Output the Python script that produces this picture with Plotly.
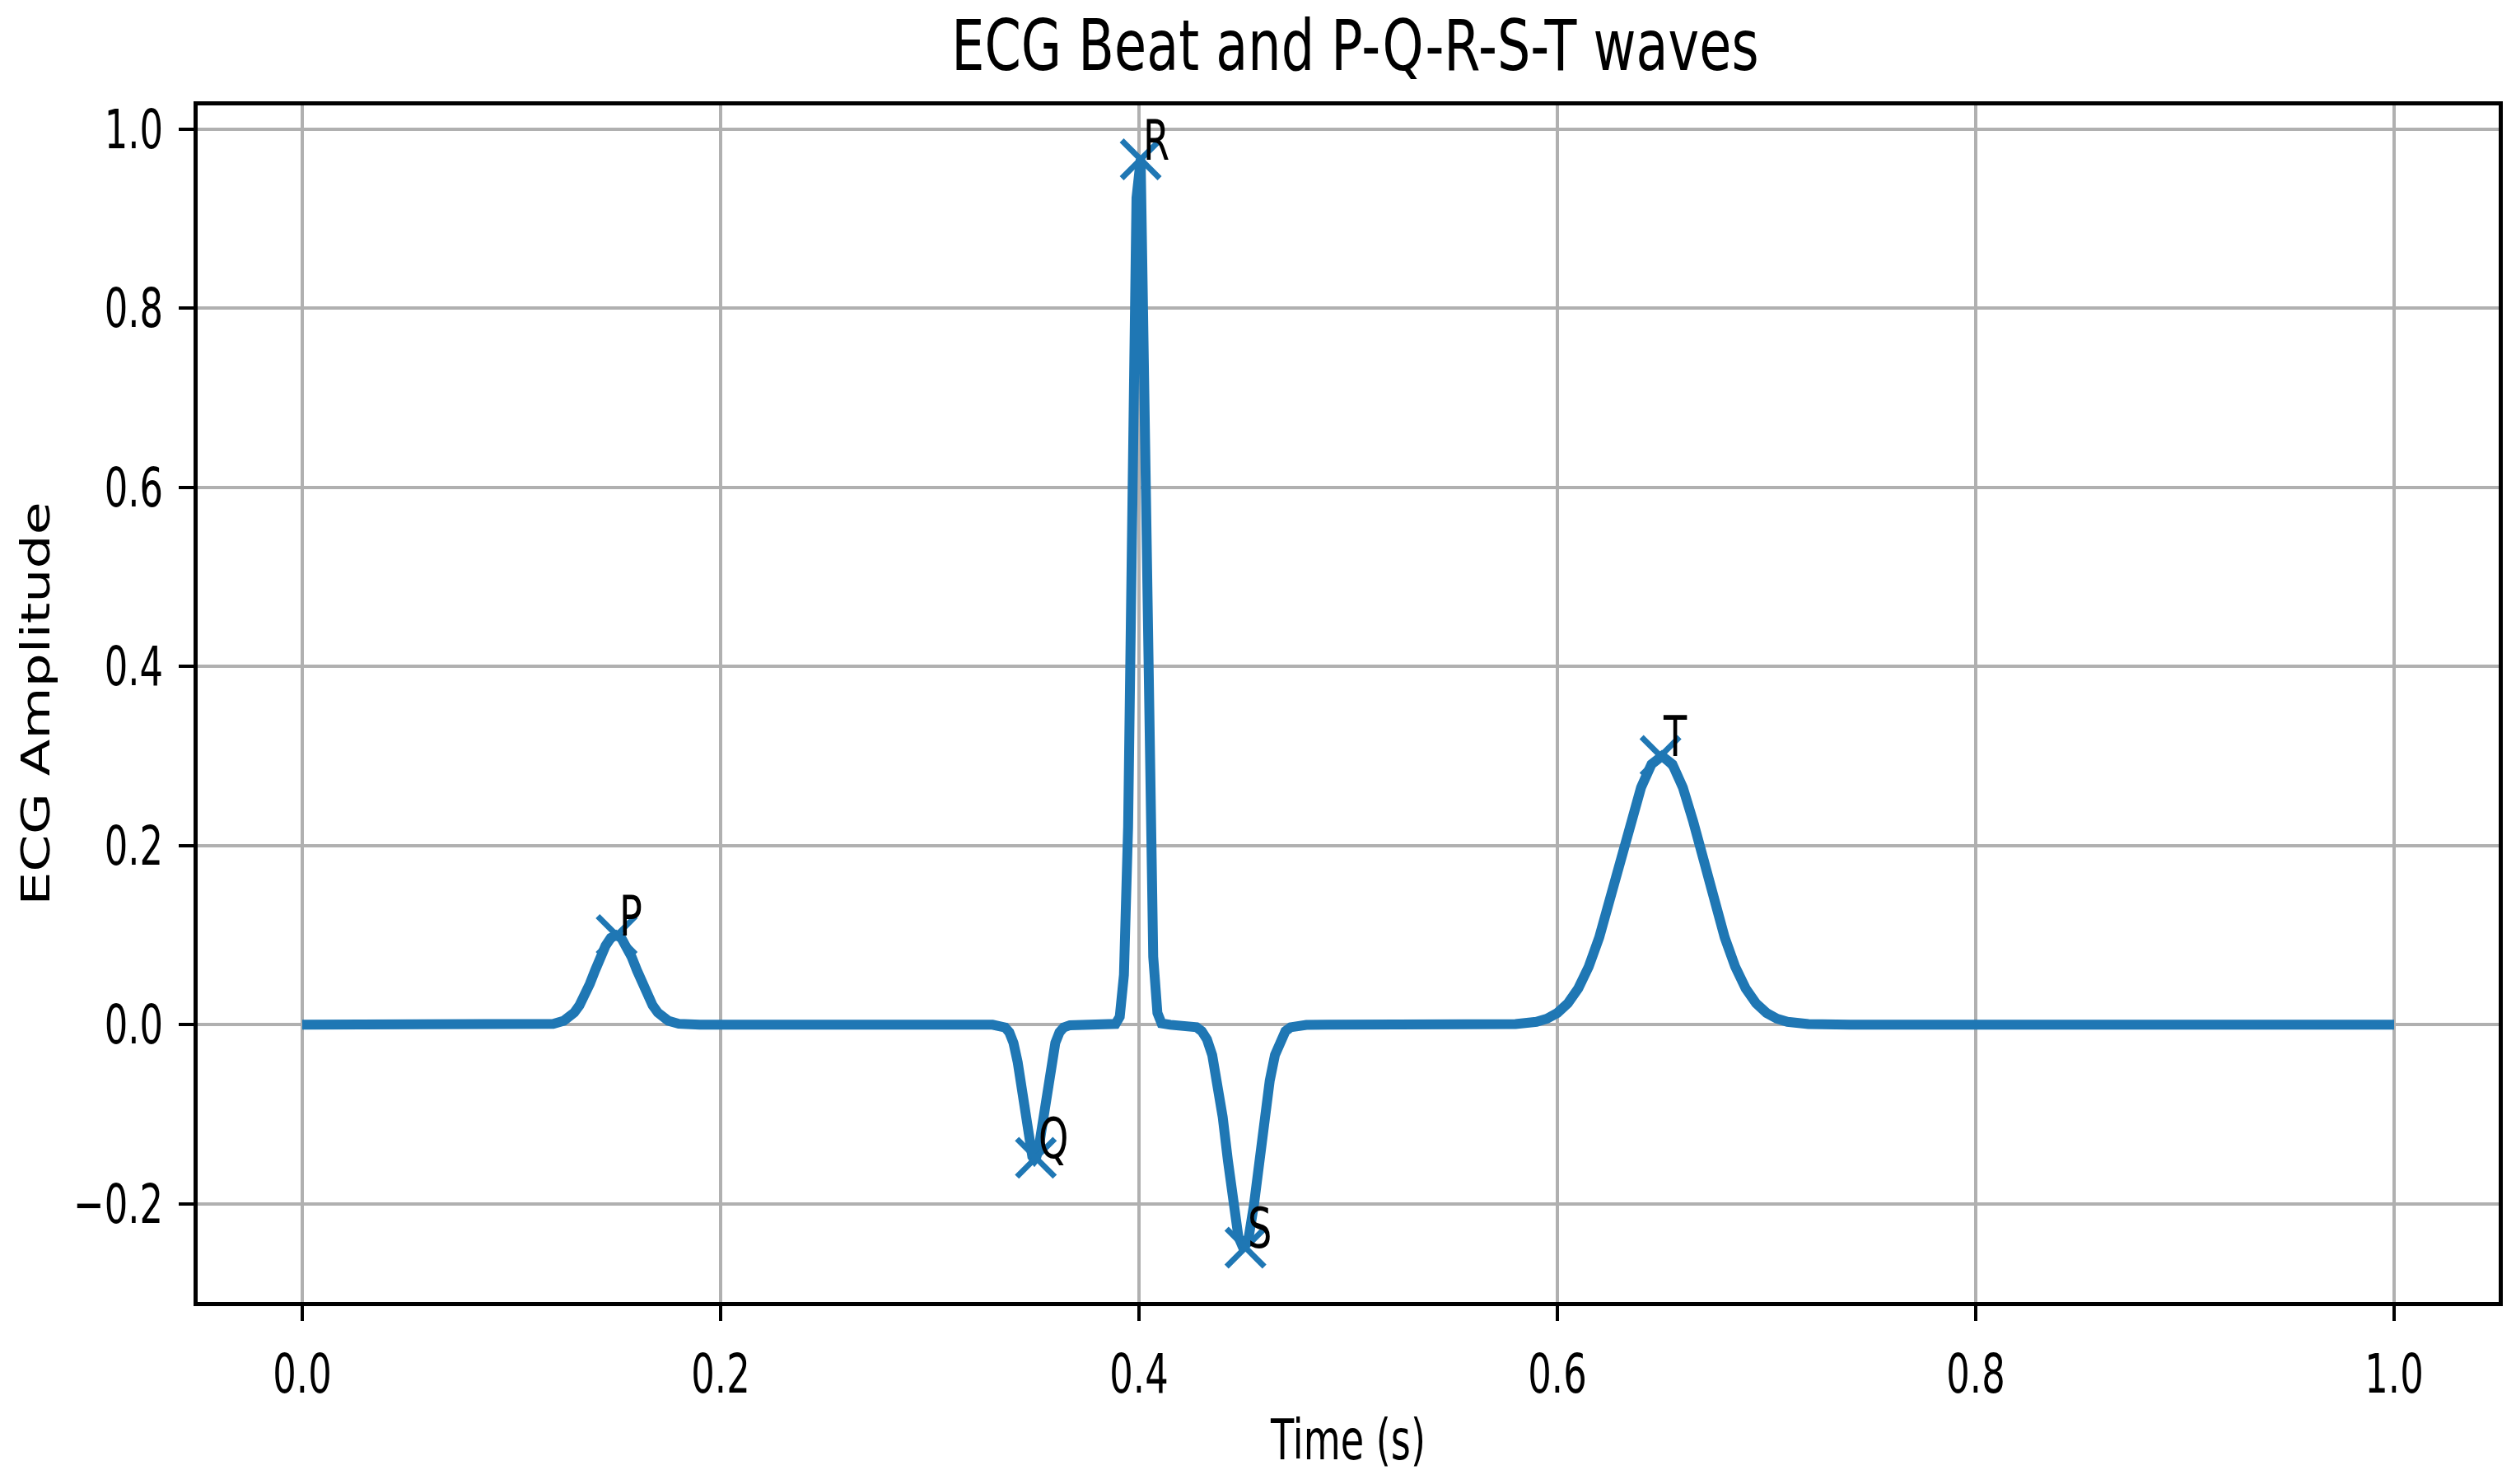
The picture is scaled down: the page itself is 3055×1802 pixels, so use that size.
import plotly.graph_objects as go

# ---- data ----
time_s = [
    0.000, 0.110, 0.115, 0.120, 0.125, 0.1275, 0.130, 0.1325, 0.135, 0.1375, 0.140, 0.1425, 0.145, 0.1475,
    0.150, 0.1525, 0.155, 0.1575, 0.160, 0.1625, 0.165, 0.1675, 0.170, 0.1725, 0.175, 0.180, 0.185, 0.190,
    0.330, 0.333, 0.336, 0.338, 0.340, 0.342, 0.344, 0.346, 0.348, 0.349, 0.350, 0.351, 0.352, 0.354,
    0.356, 0.358, 0.360, 0.362, 0.364, 0.367, 0.372,
    0.385, 0.3888, 0.3908, 0.3928, 0.3948, 0.3968, 0.3988, 0.4008, 0.4028, 0.4048, 0.4068, 0.4088,
    0.4108, 0.415,
    0.420, 0.425, 0.4275, 0.430, 0.4325, 0.435, 0.4375, 0.440, 0.4425, 0.445, 0.4475, 0.450, 0.4525,
    0.455, 0.4575, 0.460, 0.4625, 0.465, 0.4675, 0.470, 0.4725, 0.475, 0.480, 0.490,
    0.560, 0.570, 0.580, 0.590, 0.595, 0.600, 0.605, 0.610, 0.615, 0.620, 0.625, 0.630, 0.635, 0.640,
    0.645, 0.650, 0.655, 0.660, 0.665, 0.670, 0.675, 0.680, 0.685, 0.690, 0.695, 0.700, 0.705, 0.710,
    0.720, 0.730, 0.740, 1.000,
]
ecg_amp = [
    0.0, 0.0, 0.0002, 0.0011, 0.0044, 0.0080, 0.0135, 0.0216, 0.0325, 0.0458, 0.0607, 0.0755, 0.0882, 0.0969,
    0.1000, 0.0969, 0.0882, 0.0755, 0.0607, 0.0458, 0.0325, 0.0216, 0.0135, 0.0080, 0.0044, 0.0011, 0.0002, 0.0,
    0.0, -0.0005, -0.0030, -0.0084, -0.0203, -0.0417, -0.0730, -0.1089, -0.1385, -0.1470, -0.1500, -0.1470, -0.1385, -0.1089,
    -0.0730, -0.0417, -0.0203, -0.0084, -0.0030, -0.0005, 0.0,
    0.0, 0.0009, 0.0089, 0.0556, 0.2210, 0.5640, 0.9230, 0.9660, 0.6450, 0.2770, 0.0760, 0.0133,
    0.0015, 0.0,
    -0.0001, -0.0010, -0.0028, -0.0071, -0.0164, -0.0338, -0.0624, -0.1028, -0.1516, -0.2002, -0.2365, -0.2500, -0.2365,
    -0.2002, -0.1516, -0.1028, -0.0624, -0.0338, -0.0164, -0.0071, -0.0028, -0.0010, -0.0001, 0.0,
    0.0, 0.0001, 0.0007, 0.0033, 0.0068, 0.0132, 0.0239, 0.0406, 0.0649, 0.0974, 0.1373, 0.1820, 0.2264, 0.2648,
    0.2908, 0.3000, 0.2908, 0.2648, 0.2264, 0.1820, 0.1373, 0.0974, 0.0649, 0.0406, 0.0239, 0.0132, 0.0068, 0.0033,
    0.0007, 0.0001, 0.0, 0.0,
]

peak_labels = ["P", "Q", "R", "S", "T"]
peak_t = [0.1503, 0.3507, 0.4008, 0.4509, 0.6493]
peak_amp = [0.1000, -0.1485, 0.9660, -0.2488, 0.3000]

x_ticks = [0.0, 0.2, 0.4, 0.6, 0.8, 1.0]
y_ticks = [-0.2, 0.0, 0.2, 0.4, 0.6, 0.8, 1.0]

title_text = "ECG Beat and P-Q-R-S-T waves"
x_title = "Time (s)"
y_title = "ECG Amplitude"

BLUE = "#1f77b4"
FONT = "DejaVu Sans"

fig = go.Figure()
fig.add_trace(go.Scatter(
    x=time_s, y=ecg_amp, mode="lines",
    line=dict(color=BLUE, width=12), showlegend=False, hoverinfo="skip",
))
fig.add_trace(go.Scatter(
    x=peak_t, y=peak_amp, mode="markers",
    marker=dict(symbol="x-thin", size=46, color=BLUE, line=dict(color=BLUE, width=7)),
    showlegend=False, hoverinfo="skip",
))

for lab, tx, ty in zip(peak_labels, peak_t, peak_amp):
    fig.add_annotation(
        x=tx, y=ty, text=lab, showarrow=False, xanchor="left", yanchor="bottom",
        align="left", xshift=1, yshift=-18, font=dict(family=FONT, size=68, color="black"),
    )

axis_common = dict(
    showline=True, linecolor="black", linewidth=4.5, mirror=True,
    ticks="outside", ticklen=18, tickwidth=4, tickcolor="black",
    showgrid=True, gridcolor="#b0b0b0", gridwidth=3.5, zeroline=False,
    tickfont=dict(family=FONT, size=66, color="black"), tickformat=".1f",
    automargin=False,
)

fig.update_xaxes(
    range=[-0.05, 1.05], tickvals=x_ticks, ticklabelstandoff=8,
    title=dict(text=x_title, font=dict(family=FONT, size=68, color="black"), standoff=20),
    **axis_common,
)
fig.update_yaxes(
    range=[-0.3095, 1.0263], tickvals=y_ticks, ticklabelstandoff=6,
    title=dict(text=y_title, font=dict(family=FONT, size=65, color="black"), standoff=11),
    **axis_common,
)

fig.update_layout(
    width=3055, height=1802,
    margin=dict(l=240, r=21, t=128, b=221, autoexpand=False),
    paper_bgcolor="white", plot_bgcolor="white",
    title=dict(text=title_text, x=0.503, xref="paper", y=1 - 55 / 1802, yref="container",
               xanchor="center", yanchor="middle", automargin=False,
               font=dict(family=FONT, size=86, color="black")),
    showlegend=False,
)

# The reference's lettering is horizontally condensed; squeeze the real text glyphs to match.
post = r"""
(function(){
  document.body.style.margin = '0';
  var gd = document.getElementById('{plot_id}');
  function squeeze(){
    gd.querySelectorAll('text').forEach(function(t){
      if (t.getAttribute('data-sq') === '1') return;
      var tr = t.getAttribute('transform') || '';
      var x = parseFloat(t.getAttribute('x')) || 0;
      var y = parseFloat(t.getAttribute('y')) || 0;
      var cls = t.getAttribute('class') || '';
      var k = (cls.indexOf('gtitle') >= 0) ? 0.74 : 0.68;
      var m;
      if (tr.indexOf('rotate(-90') >= 0) {
        k = 0.74;
        m = 'matrix(1,0,0,' + k + ',0,' + (y * (1 - k)) + ')';
      } else {
        m = 'matrix(' + k + ',0,0,1,' + (x * (1 - k)) + ',0)';
      }
      t.setAttribute('transform', (tr + ' ' + m).trim());
      t.setAttribute('data-sq', '1');
    });
  }
  squeeze();
})();
"""

fig.write_html("out.html", config={"displayModeBar": False, "responsive": False}, post_script=post)
